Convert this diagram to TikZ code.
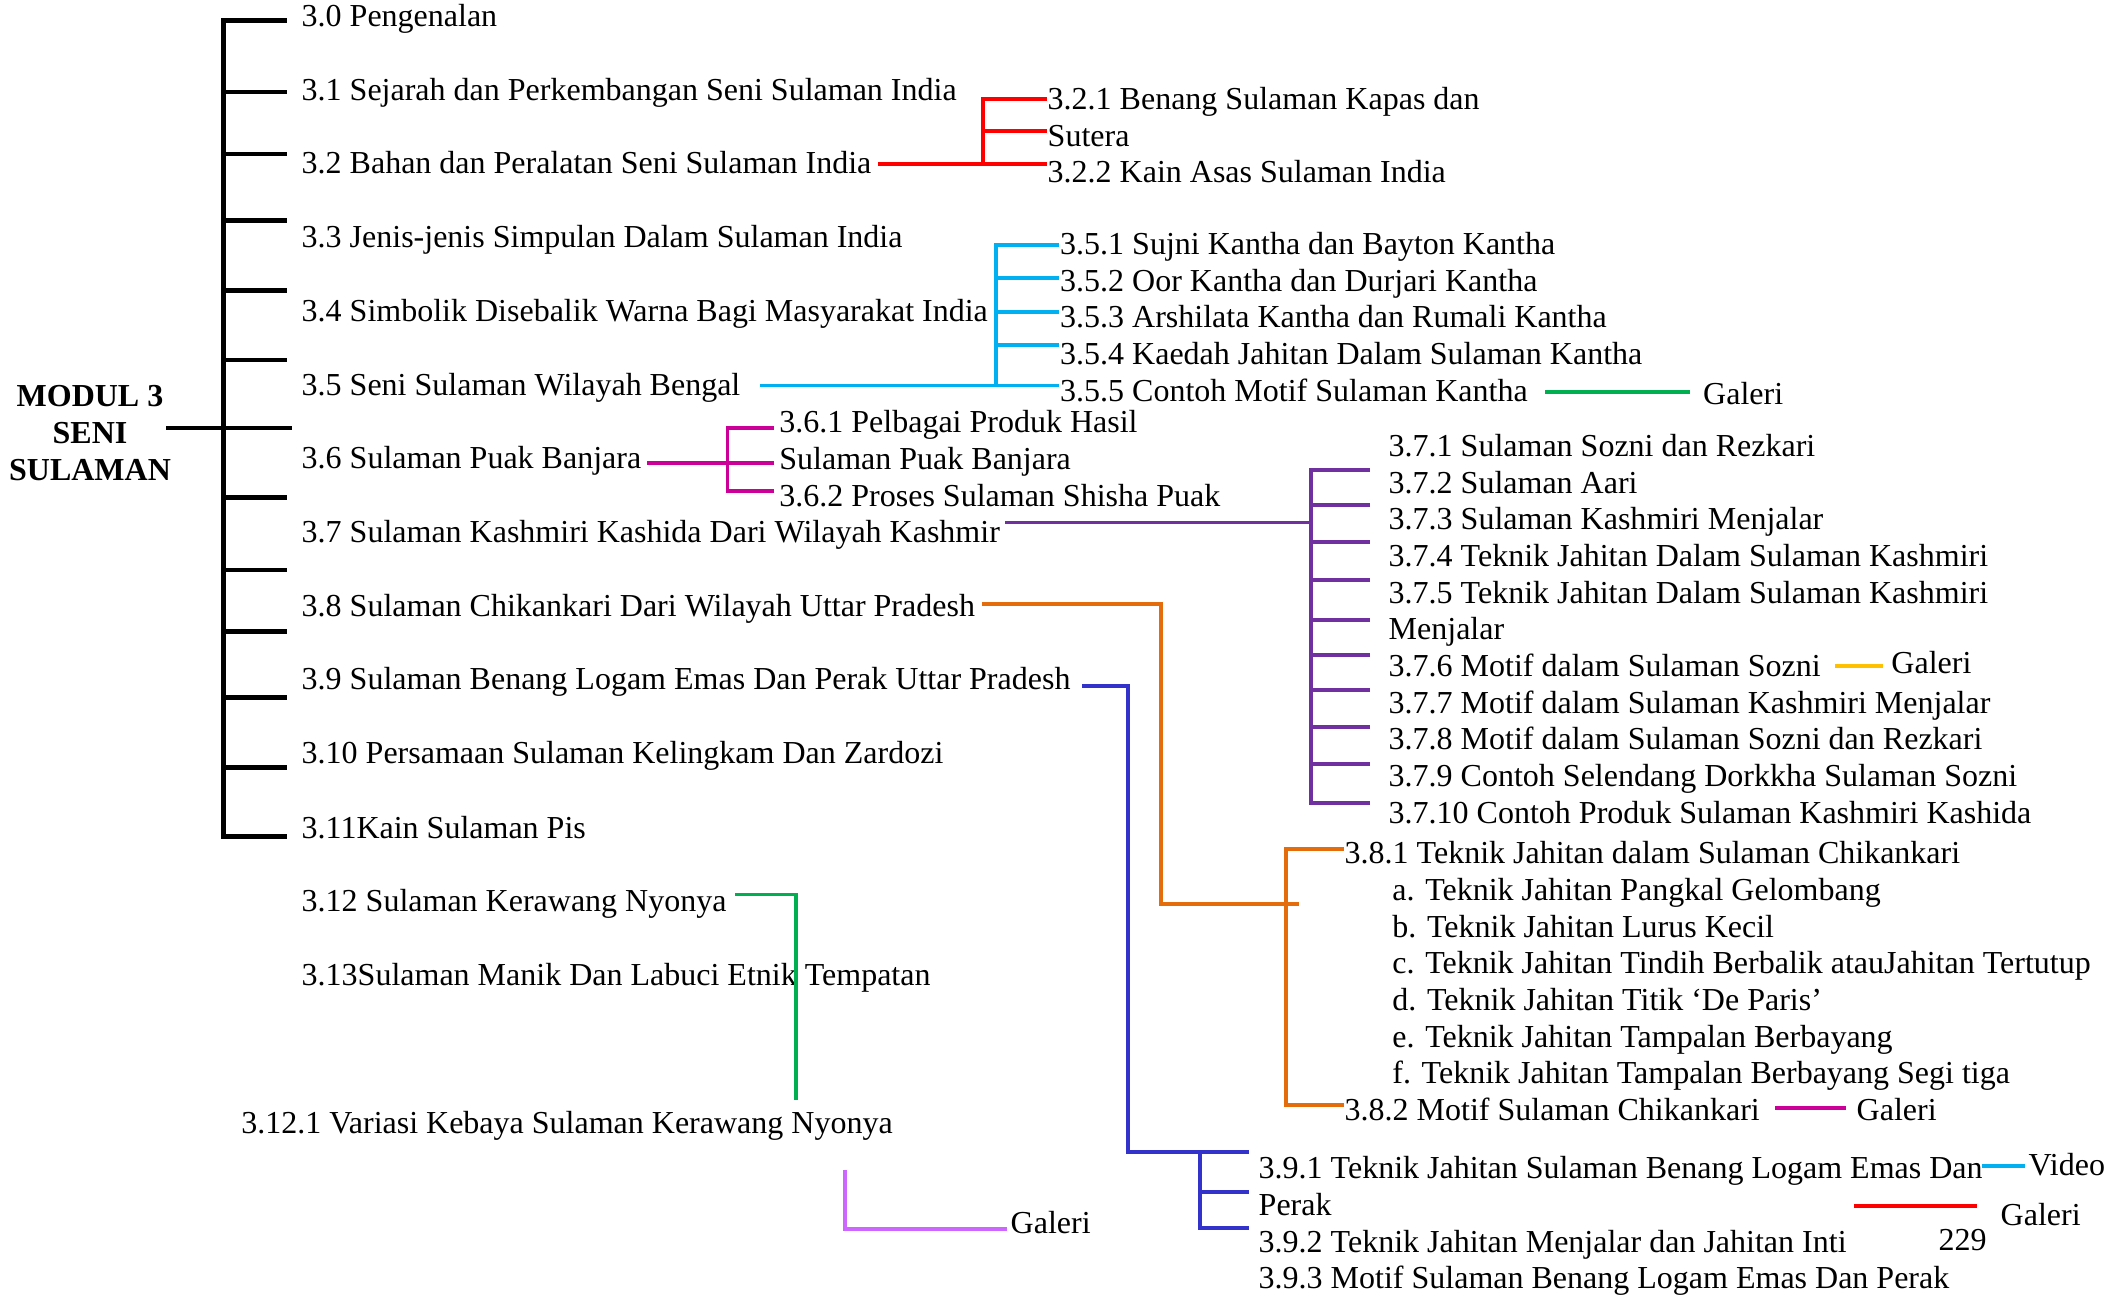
\documentclass[tikz,border=0pt]{standalone}
\usepackage{fontspec}
\setmainfont{Liberation Serif}
\usepackage{xcolor}
\definecolor{brred}{RGB}{255,0,0}
\definecolor{brcyan}{RGB}{0,176,240}
\definecolor{brgreen}{RGB}{0,176,80}
\definecolor{brmagenta}{RGB}{204,0,153}
\definecolor{brpurple}{RGB}{112,48,160}
\definecolor{brorange}{RGB}{228,108,10}
\definecolor{brblue}{RGB}{51,51,204}
\definecolor{brlilac}{RGB}{204,102,255}
\definecolor{bramber}{RGB}{255,192,0}

\begin{document}
\begin{tikzpicture}[
  x=0.01cm, y=-0.01cm,
  font=\fontsize{9.1}{10.4}\selectfont,
  item/.style={anchor=base west, inner sep=0pt},
  head/.style={font=\fontsize{9.1}{10.4}\selectfont\bfseries, align=center, inner sep=0pt},
  trunk/.style={line width=1.3pt, draw=black, line cap=rect},
  br/.style={line width=1.05pt, line cap=rect}
]
\useasboundingbox (0,0) rectangle (2128,1295);
\node[head] (modul) at (90,433) {MODUL 3\\SENI\\SULAMAN};
\node[item] (t30) at (301,27) {3.0 Pengenalan};
\node[item] (t31) at (301,100.7) {3.1 Sejarah dan Perkembangan Seni Sulaman India};
\node[item] (t32) at (301,174) {3.2 Bahan dan Peralatan Seni Sulaman India};
\node[item] (t33) at (301,248) {3.3 Jenis-jenis Simpulan Dalam Sulaman India};
\node[item] (t34) at (301,322) {3.4 Simbolik Disebalik Warna Bagi Masyarakat India};
\node[item] (t35) at (301,395.5) {3.5 Seni Sulaman Wilayah Bengal};
\node[item] (t36) at (301,469) {3.6 Sulaman Puak Banjara};
\node[item] (t37) at (301,543) {3.7 Sulaman Kashmiri Kashida Dari Wilayah Kashmir};
\node[item] (t38) at (301,617) {3.8 Sulaman Chikankari Dari Wilayah Uttar Pradesh};
\node[item] (t39) at (301,690) {3.9 Sulaman Benang Logam Emas Dan Perak Uttar Pradesh};
\node[item] (t310) at (301,764) {3.10 Persamaan Sulaman Kelingkam Dan Zardozi};
\node[item] (t311) at (301,838) {3.11Kain Sulaman Pis};
\node[item] (t312) at (301,911) {3.12 Sulaman Kerawang Nyonya};
\node[item] (t313) at (301,985) {3.13Sulaman Manik Dan Labuci Etnik Tempatan};
\node[item] (t3121) at (240.6,1133) {3.12.1 Variasi Kebaya Sulaman Kerawang Nyonya};
\node[item] (g3121) at (1010,1233) {Galeri};
% 3.2
\node[item] (t321) at (1047,110) {3.2.1 Benang Sulaman Kapas dan};
\node[item] (t321b) at (1047,147) {Sutera};
\node[item] (t322) at (1047,183) {3.2.2 Kain Asas Sulaman India};
% 3.5
\node[item] (t351) at (1059.5,255) {3.5.1 Sujni Kantha dan Bayton Kantha};
\node[item] (t352) at (1059.5,292) {3.5.2 Oor Kantha dan Durjari Kantha};
\node[item] (t353) at (1059.5,328) {3.5.3 Arshilata Kantha dan Rumali Kantha};
\node[item] (t354) at (1059.5,365) {3.5.4 Kaedah Jahitan Dalam Sulaman Kantha};
\node[item] (t355) at (1059.5,402) {3.5.5 Contoh Motif Sulaman Kantha};
\node[item] (g355) at (1702.5,405) {Galeri};
% 3.6
\node[item] (t361) at (778.7,433) {3.6.1 Pelbagai Produk Hasil};
\node[item] (t361b) at (778.7,470) {Sulaman Puak Banjara};
\node[item] (t362) at (778.7,507) {3.6.2 Proses Sulaman Shisha Puak};
% 3.7
\node[item] (t371) at (1388,456.7) {3.7.1 Sulaman Sozni dan Rezkari};
\node[item] (t372) at (1388,493.3) {3.7.2 Sulaman Aari};
\node[item] (t373) at (1388,530) {3.7.3 Sulaman Kashmiri Menjalar};
\node[item] (t374) at (1388,566.7) {3.7.4 Teknik Jahitan Dalam Sulaman Kashmiri};
\node[item] (t375) at (1388,603.3) {3.7.5 Teknik Jahitan Dalam Sulaman Kashmiri};
\node[item] (t375b) at (1388,640) {Menjalar};
\node[item] (t376) at (1388,676.7) {3.7.6 Motif dalam Sulaman Sozni};
\node[item] (g376) at (1890.7,674) {Galeri};
\node[item] (t377) at (1388,713.3) {3.7.7 Motif dalam Sulaman Kashmiri Menjalar};
\node[item] (t378) at (1388,750) {3.7.8 Motif dalam Sulaman Sozni dan Rezkari};
\node[item] (t379) at (1388,786.7) {3.7.9 Contoh Selendang Dorkkha Sulaman Sozni};
\node[item] (t3710) at (1388,823.3) {3.7.10 Contoh Produk Sulaman Kashmiri Kashida};
% 3.8
\node[item] (t381) at (1344,863) {3.8.1 Teknik Jahitan dalam Sulaman Chikankari};
\node[item] (t38a) at (1391.7,900) {a. Teknik Jahitan Pangkal Gelombang};
\node[item] (t38b) at (1391.7,937) {b. Teknik Jahitan Lurus Kecil};
\node[item] (t38c) at (1391.7,973) {c. Teknik Jahitan Tindih Berbalik atauJahitan Tertutup};
\node[item] (t38d) at (1391.7,1010) {d. Teknik Jahitan Titik ‘De Paris’};
\node[item] (t38e) at (1391.7,1047) {e. Teknik Jahitan Tampalan Berbayang};
\node[item] (t38f) at (1391.7,1083) {f. Teknik Jahitan Tampalan Berbayang Segi tiga};
\node[item] (t382) at (1344,1120) {3.8.2 Motif Sulaman Chikankari};
\node[item] (g382) at (1856,1120) {Galeri};
% 3.9
\node[item] (t391) at (1258,1178) {3.9.1 Teknik Jahitan Sulaman Benang Logam Emas Dan};
\node[item] (t391b) at (1258,1215) {Perak};
\node[item] (t392) at (1258,1252) {3.9.2 Teknik Jahitan Menjalar dan Jahitan Inti};
\node[item] (t393) at (1258,1288) {3.9.3 Motif Sulaman Benang Logam Emas Dan Perak};
\node[item] (v391) at (2028,1175) {Video};
\node[item] (g391) at (2000,1225) {Galeri};
\node[item] (pg) at (1938,1250) {229};

% main trunk
\coordinate (mtop) at (223.5,20.7);
\coordinate (mbot) at (223.5,836.7);
\coordinate (m0) at (168,428);
\coordinate (m1) at (290,428);
\draw[trunk] (mtop) -- (mbot);
\draw[trunk] (m0) -- (m1);
\foreach \y in {20.7,92,154,220.7,290.7,360,497.7,570,631.7,697.7,767.7,836.7}
  \draw[trunk] (223.5,\y) -- (285,\y);

% 3.2 branch
\coordinate (r0) at (880,164);
\coordinate (rj) at (983,164);
\coordinate (r1) at (1045,99);
\coordinate (r2) at (1045,131);
\coordinate (r3) at (1045,164);
\draw[br, brred] (r0) -- (r3);
\draw[br, brred] (r1) -| (rj);
\draw[br, brred] (r2) -- (r2 -| rj);

% 3.5 branch
\coordinate (c0) at (762,385.5);
\coordinate (cj) at (996,385.5);
\coordinate (c1) at (1057,245);
\coordinate (c2) at (1057,278);
\coordinate (c3) at (1057,312);
\coordinate (c4) at (1057,345);
\coordinate (c5) at (1057,385.5);
\draw[br, brcyan] (c0) -- (c5);
\draw[br, brcyan] (c1) -| (cj);
\foreach \c in {c2,c3,c4}
  \draw[br, brcyan] (\c) -- (\c -| cj);
\coordinate (cg0) at (1547,392);
\coordinate (cg1) at (1688,392);
\draw[br, brgreen] (cg0) -- (cg1);

% 3.6 branch
\coordinate (p0) at (649,462.7);
\coordinate (pj) at (727.5,462.7);
\coordinate (p1) at (772,428);
\coordinate (p2) at (772,491);
\coordinate (p3) at (772,462.7);
\draw[br, brmagenta] (p0) -- (p3);
\draw[br, brmagenta] (p1) -| (pj) |- (p2);

% 3.7 branch
\coordinate (k0) at (1007,522.5);
\coordinate (kj) at (1311,522.5);
\coordinate (ktop) at (1311,470);
\coordinate (kbot) at (1311,803.3);
\draw[br, brpurple] (k0) -- (kj);
\draw[br, brpurple] (ktop) -- (kbot);
\foreach \y in {470,505,542.3,580,620,655,690,726.7,764.3,803.3}
  \draw[br, brpurple] (1311,\y) -- (1368.5,\y);
\coordinate (kg0) at (1836.6,666);
\coordinate (kg1) at (1881.6,666);
\draw[br, bramber] (kg0) -- (kg1);

% 3.8 branch
\coordinate (o0) at (984,604);
\coordinate (o1) at (1161,904);
\coordinate (oj) at (1297,904);
\coordinate (oa) at (1342,849);
\coordinate (osp) at (1286,1105);
\coordinate (ob) at (1342,1105);
\draw[br, brorange] (o0) -| (o1) -- (oj);
\draw[br, brorange] (oa) -| (osp) -- (ob);
\coordinate (og0) at (1777,1108);
\coordinate (og1) at (1844,1108);
\draw[br, brmagenta] (og0) -- (og1);

% 3.9 branch
\coordinate (b0) at (1084,686);
\coordinate (b1) at (1128,1152);
\coordinate (bj) at (1247,1152);
\coordinate (bs) at (1200,1152);
\coordinate (b2) at (1247,1191.7);
\coordinate (b3) at (1247,1228);
\draw[br, brblue] (b0) -| (b1) -- (bj);
\draw[br, brblue] (bs) |- (b3);
\draw[br, brblue] (b2) -- (b2 -| bs);
\coordinate (bv0) at (1984,1166);
\coordinate (bv1) at (2023,1166);
\draw[br, brcyan] (bv0) -- (bv1);
\coordinate (bg0) at (1856,1206);
\coordinate (bg1) at (1975,1206);
\draw[br, brred] (bg0) -- (bg1);

% 3.12 branch
\coordinate (e0) at (737,894.5);
\coordinate (e1) at (796,1098);
\draw[br, brgreen] (e0) -| (e1);
\coordinate (l0) at (845,1172);
\coordinate (l1) at (1005,1229);
\draw[br, brlilac] (l0) |- (l1);
\end{tikzpicture}
\end{document}
